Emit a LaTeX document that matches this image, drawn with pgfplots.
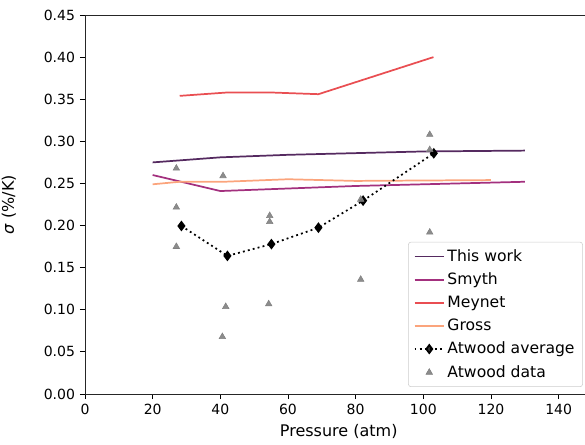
\documentclass[border=0pt]{standalone}
\usepackage{fontspec}
\setmainfont{DejaVu Sans}
\usepackage{pgfplots}
\pgfplotsset{compat=1.18}
\definecolor{thiswork}{HTML}{552A60}
\definecolor{smyth}{HTML}{A3307E}
\definecolor{meynet}{HTML}{E94E52}
\definecolor{gross}{HTML}{FBA47C}
\definecolor{atgray}{HTML}{808080}
\begin{document}
\fontsize{10.8}{13}\selectfont
\begin{tikzpicture}
\useasboundingbox (-63.75pt,-37.5pt) rectangle (375pt,295.5pt);
\begin{axis}[
  scale only axis, width=380.6pt, height=284.25pt,
  xmin=0, xmax=150, ymin=0, ymax=0.45,
  xtick={0,20,40,60,80,100,120,140},
  ytick={0,0.05,0.1,0.15,0.2,0.25,0.3,0.35,0.4,0.45},
  yticklabel style={/pgf/number format/.cd, fixed, fixed zerofill, precision=2},
  /pgf/number format/assume math mode=true,
  tick align=outside, xtick pos=left, ytick pos=left,
  major tick length=3.75pt,
  every tick/.style={black, line width=0.6pt},
  axis line style={line width=0.6pt, black!85},
  tick label style={font=\fontsize{10.5}{12}\selectfont},
  label style={font=\fontsize{12}{14}\selectfont},
  xlabel={Pressure (atm)},
  ylabel={\textit{σ} (\%/K)},
  xlabel style={at={(axis description cs:0.5,-0.1)}, anchor=center},
  ylabel style={at={(axis description cs:-0.15,0.5)}, anchor=center},
  legend cell align=left,
  legend style={at={(0.981,0.0185)}, anchor=south east, draw=black!20, rounded corners=2pt,
    fill=white, fill opacity=0.8, text opacity=1, row sep=3pt, inner xsep=4pt, inner ysep=3.5pt,
    font=\fontsize{11.7}{13}\selectfont},
  legend image code/.code={\draw[mark repeat=2,mark phase=2,#1] plot coordinates {(0pt,0pt) (11pt,0pt) (22pt,0pt)};},
]
\addplot[thiswork, line width=1.3pt] coordinates {(20,0.275) (30,0.278) (40,0.281) (60,0.284) (80,0.286) (100,0.288) (130,0.289)};
\addlegendentry{This work}
\addplot[smyth, line width=1.3pt] coordinates {(20,0.260) (40,0.241) (60,0.244) (80,0.247) (100,0.249) (130,0.252)};
\addlegendentry{Smyth}
\addplot[meynet, line width=1.3pt] coordinates {(28,0.354) (42,0.358) (55,0.358) (69,0.356) (103,0.400)};
\addlegendentry{Meynet}
\addplot[gross, line width=1.3pt] coordinates {(20,0.249) (28,0.252) (41,0.252) (60,0.255) (80,0.253) (120,0.254)};
\addlegendentry{Gross}
\addplot[black, line width=1.3pt, dash pattern={on 1.4pt off 2.4pt}, mark=diamond*, mark size=3pt, mark options={solid}] coordinates {(28.5,0.1995) (42.1,0.164) (55.1,0.178) (69.0,0.1975) (82.2,0.2296) (103.1,0.2858)};
\addlegendentry{Atwood average}
\addplot[only marks, mark=triangle*, mark size=2.8pt, color=atgray, fill opacity=0.9] coordinates {
 (27.0,0.268) (27.0,0.2217) (27.0,0.175)
 (40.8,0.259) (41.6,0.1037) (40.6,0.068)
 (54.6,0.2117) (54.6,0.2046) (54.3,0.1069)
 (81.5,0.231) (81.5,0.136)
 (101.9,0.192) (101.9,0.308) (101.9,0.290)};
\addlegendentry{Atwood data}
\end{axis}
\end{tikzpicture}
\end{document}
